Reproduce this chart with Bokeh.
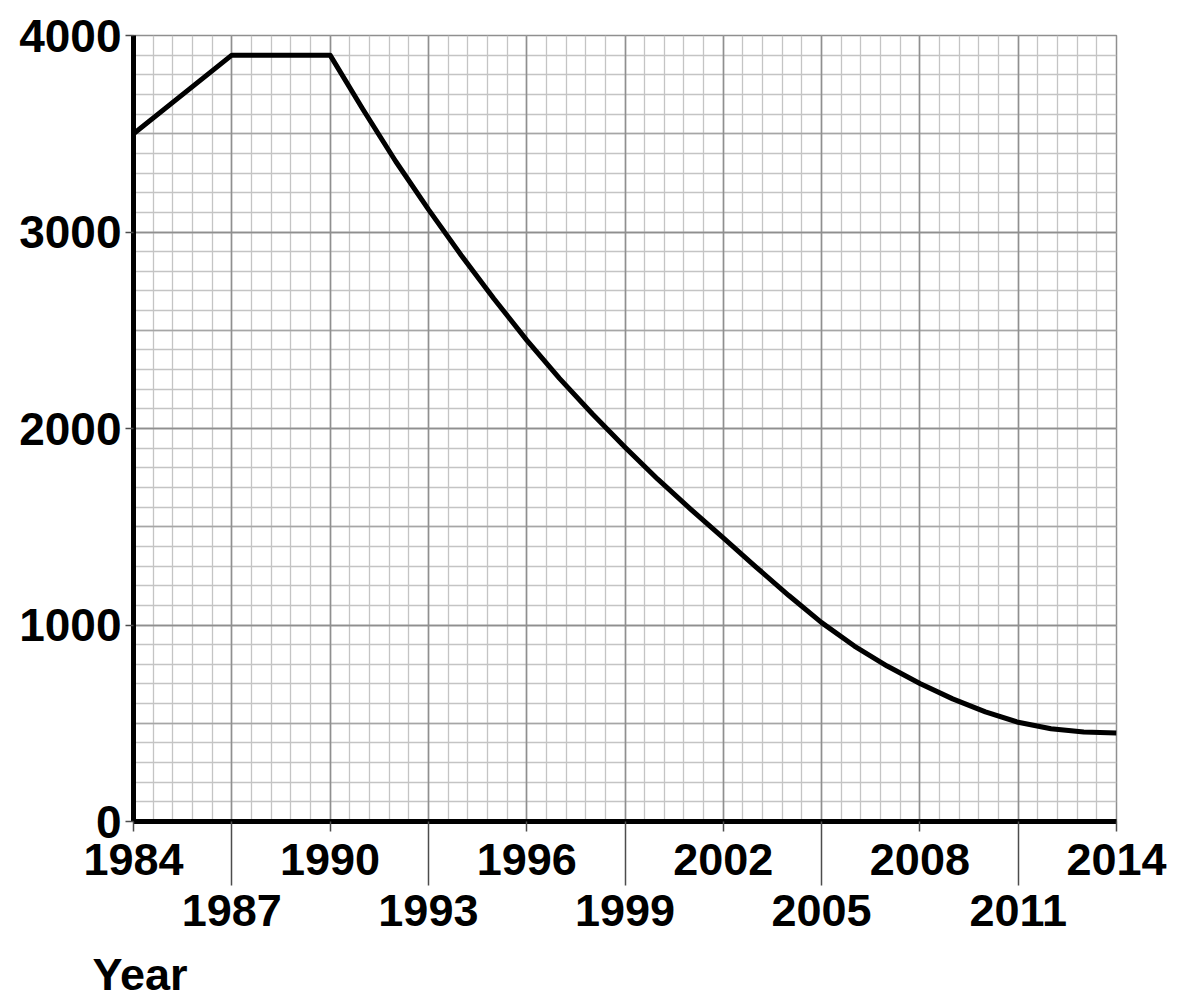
import numpy as np
from bokeh.plotting import figure
from bokeh.models import Range1d, FixedTicker, Grid, LinearAxis, Title
from bokeh.embed import file_html
from bokeh.resources import INLINE

# ---- data ----
years = [1984, 1987, 1990, 1991, 1992, 1993, 1994, 1995, 1996, 1997, 1998,
         1999, 2000, 2001, 2002, 2003, 2004, 2005, 2006, 2007, 2008, 2009,
         2010, 2011, 2012, 2013, 2014]
values = [3500, 3900, 3900, 3625, 3360, 3115, 2882, 2660, 2450, 2255, 2075,
          1905, 1742, 1590, 1443, 1295, 1150, 1012, 893, 791, 702, 624,
          558, 505, 472, 455, 450]
upper_ticks = [1984, 1990, 1996, 2002, 2008, 2014]
lower_ticks = [1987, 1993, 1999, 2005, 2011]
y_ticks = [0, 1000, 2000, 3000, 4000]
x_title = "Year"

X0, X1 = 1984, 2014
Y0, Y1 = 0, 4000
FW, FH = 983, 786
FONT = "Liberation Sans"
FSIZE = "45px"

p = figure(frame_width=FW, frame_height=FH,
           x_range=Range1d(X0, X1), y_range=Range1d(Y0, Y1),
           output_backend="svg", toolbar_location=None,
           min_border_left=133, min_border_right=56,
           min_border_top=35, min_border_bottom=170,
           background_fill_color="white", border_fill_color="white")

# ---- graph-paper grid ----
p.xgrid.visible = False
p.ygrid.visible = False
minor_x = [float(v) for v in np.round(np.arange(X0, X1 + 0.001, 0.6), 2)]
major_x = list(range(X0, X1 + 1, 3))
minor_y = list(range(Y0, Y1 + 1, 100))
mid_y = list(range(Y0, Y1 + 1, 500))
major_y = list(range(Y0, Y1 + 1, 1000))
for ticks, dim, color, w in [(minor_x, 0, "#c4c4c4", 1.3),
                             (minor_y, 1, "#c4c4c4", 1.3),
                             (mid_y, 1, "#a6a6a6", 1.5),
                             (major_x, 0, "#8f8f8f", 1.6),
                             (major_y, 1, "#8f8f8f", 1.6)]:
    p.add_layout(Grid(dimension=dim, ticker=FixedTicker(ticks=ticks),
                      grid_line_color=color, grid_line_width=w))

p.outline_line_color = "#8f8f8f"
p.outline_line_width = 1.5

def style_labels(ax, size=FSIZE):
    ax.major_label_text_font = FONT
    ax.major_label_text_font_style = "bold"
    ax.major_label_text_font_size = size
    ax.major_label_text_color = "black"

# ---- x axis: first row of labels, short and long ticks ----
xa = p.xaxis[0]
xa.ticker = FixedTicker(ticks=upper_ticks, minor_ticks=lower_ticks)
xa.major_tick_in = 0
xa.major_tick_out = 10
xa.minor_tick_in = 0
xa.minor_tick_out = 64
xa.major_tick_line_color = "#4d4d4d"
xa.minor_tick_line_color = "#4d4d4d"
xa.major_tick_line_width = 1.5
xa.minor_tick_line_width = 1.5
xa.axis_line_color = "black"
xa.axis_line_width = 5
style_labels(xa)
xa.major_label_standoff = -42

# ---- second row of year labels ----
xb = LinearAxis(ticker=FixedTicker(ticks=lower_ticks))
xb.axis_line_color = None
xb.major_tick_line_color = None
xb.minor_tick_line_color = None
xb.major_tick_in = 0
xb.major_tick_out = 0
xb.minor_tick_in = 0
xb.minor_tick_out = 0
style_labels(xb)
xb.major_label_standoff = 17
p.add_layout(xb, "below")

# ---- axis title, left aligned ----
p.add_layout(Title(text=x_title, align="left", offset=-41, standoff=37,
                   text_font=FONT, text_font_style="bold",
                   text_font_size=FSIZE, text_color="black"), "below")

# ---- y axis ----
ya = p.yaxis[0]
ya.ticker = FixedTicker(ticks=y_ticks)
ya.major_tick_in = 0
ya.major_tick_out = 8
ya.minor_tick_out = 0
ya.minor_tick_in = 0
ya.major_tick_line_color = "#4d4d4d"
ya.major_tick_line_width = 1.5
ya.axis_line_color = "black"
ya.axis_line_width = 5
style_labels(ya, "46px")
ya.major_label_standoff = 4

# ---- curve ----
p.line(years, values, line_color="black", line_width=5, line_join="round")

open("out.html", "w").write(file_html(p, INLINE))
